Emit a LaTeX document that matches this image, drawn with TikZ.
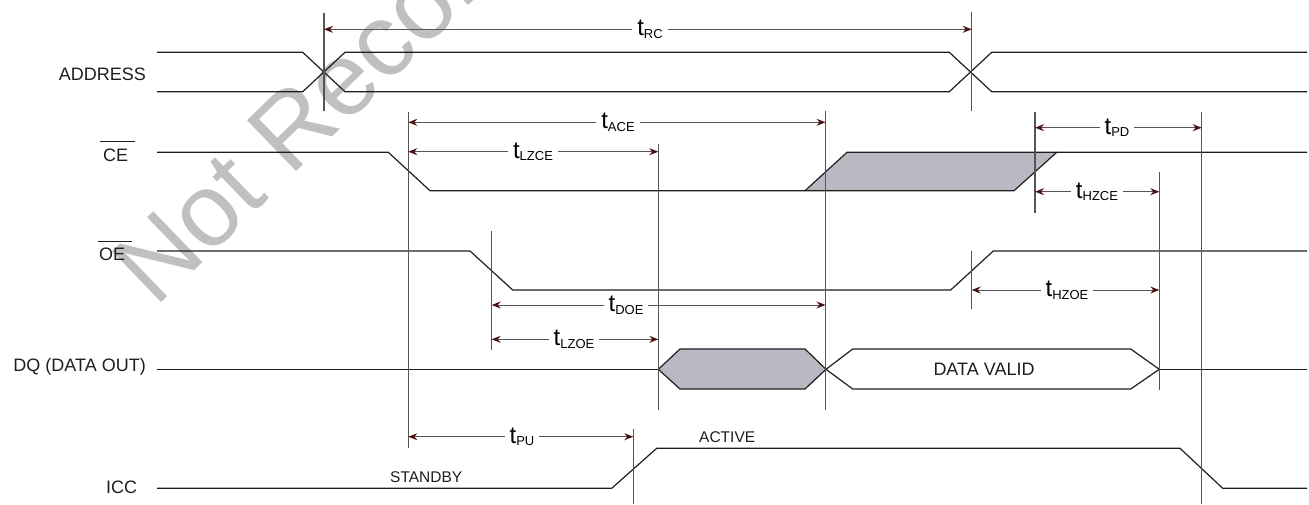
\documentclass[tikz,border=0pt]{standalone}
\usepackage{fontspec}
\setmainfont{Liberation Sans}
\usetikzlibrary{arrows.meta}
\definecolor{sig}{RGB}{30,30,30}
\definecolor{vln}{RGB}{85,85,85}
\definecolor{tipc}{RGB}{75,18,18}
\definecolor{fillg}{RGB}{185,185,195}
\definecolor{wm}{RGB}{192,192,192}
\newcommand\tsub[1]{{\fontsize{24}{24}\selectfont t}\raisebox{-2.7pt}{\fontsize{13}{13}\selectfont #1}}
\begin{document}
\begin{tikzpicture}[x=1pt,y=-1pt,
  sigline/.style={draw=sig,line width=1.2pt,line join=miter},
  vline/.style={draw=vln,line width=1.1pt},
  dim/.style={draw=vln,line width=1pt,
    {Stealth[length=9pt,width=7pt,inset=3pt,color=tipc]}-{Stealth[length=9pt,width=7pt,inset=3pt,color=tipc]}},
  tlab/.style={fill=white,inner xsep=5pt,inner ysep=0pt},
  lab/.style={font=\fontsize{18}{18}\selectfont,inner sep=0pt,text=sig},
  small/.style={font=\fontsize{15.5}{16}\selectfont,inner sep=0pt,text=sig}]
\useasboundingbox (0,0) rectangle (1309,504);
% watermark
\begin{scope}
\clip (0,0) rectangle (1309,504);
\node[rotate=44,anchor=base west,text=wm,font=\fontsize{103}{103}\selectfont,inner sep=0pt] (wmark) at (155,309) {Not Recommended};
\end{scope}
% labels
\node[lab,anchor=east] (laddr) at (146,74.7) {ADDRESS};
\node[lab,anchor=west] (lce) at (103,155.5) {CE};
\node[lab,anchor=west] (loe) at (99,254.5) {OE};
\node[lab,anchor=east] (ldq) at (146,366.7) {DQ (DATA OUT)};
\node[lab,anchor=west] (licc) at (106,487.5) {ICC};
\coordinate (ceo1) at (100,141.7); \coordinate (ceo2) at (135,141.7);
\coordinate (oeo1) at (98,241.7); \coordinate (oeo2) at (132,241.7);
\draw[sig,line width=1pt] (ceo1) -- (ceo2);
\draw[sig,line width=1pt] (oeo1) -- (oeo2);
% ADDRESS
\draw[sigline] (157,52.3) -- (302.7,52.3) -- (345,91.7) -- (949.3,91.7) -- (991.7,52.3) -- (1307,52.3);
\draw[sigline] (157,91.7) -- (302.7,91.7) -- (345,52.3) -- (949.3,52.3) -- (991.7,91.7) -- (1307,91.7);
% CE
\fill[fillg] (805,190.7) -- (847,152.3) -- (1056.7,152.3) -- (1014,190.7) -- cycle;
\draw[sigline] (157,152.3) -- (388.3,152.3) -- (430,190.7) -- (1014,190.7) -- (1056.7,152.3) -- (1307,152.3);
\draw[sigline] (805,190.7) -- (847,152.3) -- (1056.7,152.3);
% OE
\draw[sigline] (157,251) -- (470,251) -- (512.7,290) -- (950.7,290) -- (993.3,251) -- (1307,251);
% DQ
\filldraw[fill=fillg,sigline] (658.3,369.3) -- (680,349) -- (805,349) -- (826,369.3) -- (805,389) -- (680,389) -- cycle;
\draw[sigline] (157,369.3) -- (658.3,369.3);
\draw[sigline] (826,369.3) -- (852.7,349) -- (1130.7,349) -- (1159.3,369.3) -- (1130.7,389) -- (852.7,389) -- cycle;
\draw[sigline] (1159.3,369.3) -- (1307,369.3);
\node[lab] (dval) at (984,369) {DATA VALID};
% ICC
\draw[sigline] (157,488.3) -- (611.7,488.3) -- (656.7,448.3) -- (1180,448.3) -- (1222.7,488.3) -- (1307,488.3);
\node[small,anchor=west] (stby) at (390,476.7) {STANDBY};
\node[small,anchor=west] (actv) at (699,436.7) {ACTIVE};
% vertical reference lines
\draw[vline] (324,13) -- (324,111);
\draw[vline] (971.7,12) -- (971.7,111);
\draw[vline] (408.3,112) -- (408.3,448);
\draw[vline] (825.5,111) -- (825.5,410);
\draw[vline] (658.3,144) -- (658.3,410);
\draw[vline] (1035,112) -- (1035,213);
\draw[vline] (1201.7,112) -- (1201.7,504);
\draw[vline] (1159.3,172) -- (1159.3,390);
\draw[vline] (491.7,231) -- (491.7,350);
\draw[vline] (971.7,251) -- (971.7,309);
\draw[vline] (633.3,429) -- (633.3,504);
% dimension arrows
\coordinate (rcA) at (324,29.3);   \coordinate (rcB) at (971.7,29.3);
\coordinate (aceA) at (408.3,122.3); \coordinate (aceB) at (825.5,122.3);
\coordinate (lzceA) at (408.3,151.7); \coordinate (lzceB) at (658.3,151.7);
\coordinate (pdA) at (1035,127.7); \coordinate (pdB) at (1201.7,127.7);
\coordinate (hzceA) at (1035,191.7); \coordinate (hzceB) at (1159.3,191.7);
\coordinate (doeA) at (491.7,305); \coordinate (doeB) at (825.5,305);
\coordinate (hzoeA) at (971.7,290); \coordinate (hzoeB) at (1159.3,290);
\coordinate (lzoeA) at (491.7,339.3); \coordinate (lzoeB) at (658.3,339.3);
\coordinate (puA) at (408.3,436.7); \coordinate (puB) at (633.3,436.7);
\draw[dim] (rcA) -- (rcB);
\draw[dim] (aceA) -- (aceB);
\draw[dim] (lzceA) -- (lzceB);
\draw[dim] (pdA) -- (pdB);
\draw[dim] (hzceA) -- (hzceB);
\draw[dim] (doeA) -- (doeB);
\draw[dim] (hzoeA) -- (hzoeB);
\draw[dim] (lzoeA) -- (lzoeB);
\draw[dim] (puA) -- (puB);
\node[tlab] (trc) at (650,29.3) {\tsub{RC}};
\node[tlab] (tace) at (618,122.3) {\tsub{ACE}};
\node[tlab] (tlzce) at (533,151.7) {\tsub{LZCE}};
\node[tlab] (tpd) at (1117,127.7) {\tsub{PD}};
\node[tlab] (thzce) at (1097,191.7) {\tsub{HZCE}};
\node[tlab] (tdoe) at (626,305) {\tsub{DOE}};
\node[tlab] (thzoe) at (1067,290) {\tsub{HZOE}};
\node[tlab] (tlzoe) at (574,339.3) {\tsub{LZOE}};
\node[tlab] (tpu) at (522,436.7) {\tsub{PU}};
\end{tikzpicture}
\end{document}
